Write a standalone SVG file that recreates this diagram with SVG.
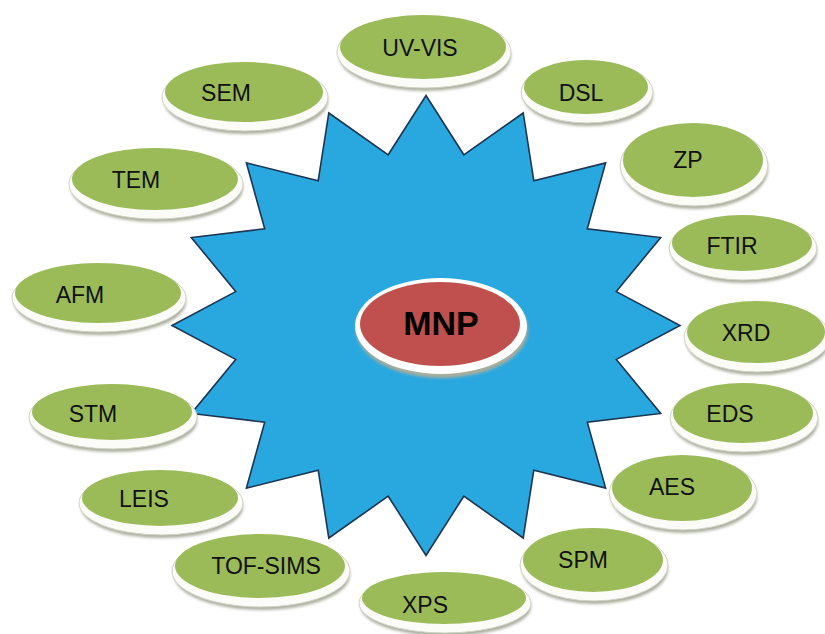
<svg xmlns="http://www.w3.org/2000/svg" width="825" height="634" viewBox="0 0 825 634">
  <defs>
    <filter id="blur" x="-20%" y="-30%" width="140%" height="160%">
      <feGaussianBlur stdDeviation="1.8"/>
    </filter>
  </defs>
  <style>
    .shadow { fill: #a9ad9c; filter: url(#blur); }
    .rim { fill: #fbfbf8; stroke: #cfd2c4; stroke-width: 1; }
    .disc { fill: #9bbb59; }
    .lbl { font-family: "Liberation Sans", Arial, sans-serif; font-size: 23px; fill: #111; text-anchor: middle; }
    .star { fill: #29a8e0; stroke: #1c3550; stroke-width: 1.6; stroke-linejoin: miter; }
    .core { fill: #c0504d; }
    .corerim { fill: #ffffff; }
    .corelbl { font-family: "Liberation Sans", Arial, sans-serif; font-size: 34px; font-weight: bold; fill: #000; text-anchor: middle; }
  </style>
  <rect width="825" height="634" fill="#ffffff"/>

  <g id="star">
    <polygon class="star" points="426,95.5 463.8,154.8 523.2,113 533.8,180.8 605.6,162.9 587.3,228.8 660.7,237.5 616.3,291.6 680,325.5 616.3,359.4 660.7,413.5 587.3,422.2 605.6,488.1 533.8,470.2 523.2,538 463.8,496.2 426,555.5 388.2,496.2 328.8,538 318.2,470.2 246.4,488.1 264.7,422.2 191.3,413.5 235.7,359.4 172,325.5 235.7,291.6 191.3,237.5 264.7,228.8 246.4,162.9 318.2,180.8 328.8,113 388.2,154.8"/>
  </g>

  <g id="MNP">
    <ellipse class="shadow" cx="442" cy="330" rx="86" ry="48"/>
    <ellipse class="corerim" cx="441" cy="326" rx="86" ry="48"/>
    <ellipse class="core" cx="440" cy="324" rx="80" ry="42"/>
    <text class="corelbl" x="441" y="335">MNP</text>
  </g>

  <g id="connectors"></g>

  <g id="UV-VIS" transform="translate(423,47)">
    <ellipse class="shadow" cx="2" cy="9" rx="86" ry="35"/>
    <ellipse class="rim" cx="1" cy="5" rx="87" ry="36"/>
    <ellipse class="disc" rx="83" ry="32"/>
    <text class="lbl" x="-3" y="9">UV-VIS</text>
  </g>
  <g id="SEM" transform="translate(244,92)">
    <ellipse class="shadow" cx="2" cy="9" rx="82" ry="33"/>
    <ellipse class="rim" cx="1" cy="5" rx="83" ry="34"/>
    <ellipse class="disc" rx="79" ry="30"/>
    <text class="lbl" x="-18" y="9">SEM</text>
  </g>
  <g id="DSL" transform="translate(586,87)">
    <ellipse class="shadow" cx="2" cy="9" rx="65" ry="30"/>
    <ellipse class="rim" cx="1" cy="5" rx="66" ry="31"/>
    <ellipse class="disc" rx="62" ry="27"/>
    <text class="lbl" x="-5" y="14">DSL</text>
  </g>
  <g id="TEM" transform="translate(155,179)">
    <ellipse class="shadow" cx="2" cy="9" rx="86" ry="34"/>
    <ellipse class="rim" cx="1" cy="5" rx="87" ry="35"/>
    <ellipse class="disc" rx="83" ry="31"/>
    <text class="lbl" x="-19" y="9">TEM</text>
  </g>
  <g id="ZP" transform="translate(693,160)">
    <ellipse class="shadow" cx="2" cy="9" rx="73" ry="40"/>
    <ellipse class="rim" cx="1" cy="5" rx="74" ry="41"/>
    <ellipse class="disc" rx="70" ry="37"/>
    <text class="lbl" x="-5" y="8">ZP</text>
  </g>
  <g id="FTIR" transform="translate(742,243)">
    <ellipse class="shadow" cx="2" cy="9" rx="73" ry="31"/>
    <ellipse class="rim" cx="1" cy="5" rx="74" ry="32"/>
    <ellipse class="disc" rx="70" ry="28"/>
    <text class="lbl" x="-10" y="11">FTIR</text>
  </g>
  <g id="AFM" transform="translate(98,293)">
    <ellipse class="shadow" cx="2" cy="9" rx="86" ry="33"/>
    <ellipse class="rim" cx="1" cy="5" rx="87" ry="34"/>
    <ellipse class="disc" rx="83" ry="30"/>
    <text class="lbl" x="-18" y="10">AFM</text>
  </g>
  <g id="XRD" transform="translate(756,332)">
    <ellipse class="shadow" cx="2" cy="9" rx="72" ry="34"/>
    <ellipse class="rim" cx="1" cy="5" rx="73" ry="35"/>
    <ellipse class="disc" rx="69" ry="31"/>
    <text class="lbl" x="-10" y="9">XRD</text>
  </g>
  <g id="STM" transform="translate(112,412)">
    <ellipse class="shadow" cx="2" cy="9" rx="83" ry="31"/>
    <ellipse class="rim" cx="1" cy="5" rx="84" ry="32"/>
    <ellipse class="disc" rx="80" ry="28"/>
    <text class="lbl" x="-19" y="10">STM</text>
  </g>
  <g id="EDS" transform="translate(743,413)">
    <ellipse class="shadow" cx="2" cy="9" rx="73" ry="33"/>
    <ellipse class="rim" cx="1" cy="5" rx="74" ry="34"/>
    <ellipse class="disc" rx="70" ry="30"/>
    <text class="lbl" x="-13" y="9">EDS</text>
  </g>
  <g id="LEIS" transform="translate(160,498)">
    <ellipse class="shadow" cx="2" cy="9" rx="81" ry="31"/>
    <ellipse class="rim" cx="1" cy="5" rx="82" ry="32"/>
    <ellipse class="disc" rx="78" ry="28"/>
    <text class="lbl" x="-16" y="9">LEIS</text>
  </g>
  <g id="AES" transform="translate(682,488)">
    <ellipse class="shadow" cx="2" cy="9" rx="73" ry="36"/>
    <ellipse class="rim" cx="1" cy="5" rx="74" ry="37"/>
    <ellipse class="disc" rx="70" ry="33"/>
    <text class="lbl" x="-10" y="7">AES</text>
  </g>
  <g id="TOF-SIMS" transform="translate(260,566)">
    <ellipse class="shadow" cx="2" cy="9" rx="88" ry="35"/>
    <ellipse class="rim" cx="1" cy="5" rx="89" ry="36"/>
    <ellipse class="disc" rx="85" ry="32"/>
    <text class="lbl" x="6" y="8">TOF-SIMS</text>
  </g>
  <g id="SPM" transform="translate(593,560)">
    <ellipse class="shadow" cx="2" cy="9" rx="73" ry="35"/>
    <ellipse class="rim" cx="1" cy="5" rx="74" ry="36"/>
    <ellipse class="disc" rx="70" ry="32"/>
    <text class="lbl" x="-10" y="8">SPM</text>
  </g>
  <g id="XPS" transform="translate(444,598)">
    <ellipse class="shadow" cx="2" cy="9" rx="85" ry="29"/>
    <ellipse class="rim" cx="1" cy="5" rx="86" ry="30"/>
    <ellipse class="disc" rx="82" ry="26"/>
    <text class="lbl" x="-19" y="15">XPS</text>
  </g>
</svg>
